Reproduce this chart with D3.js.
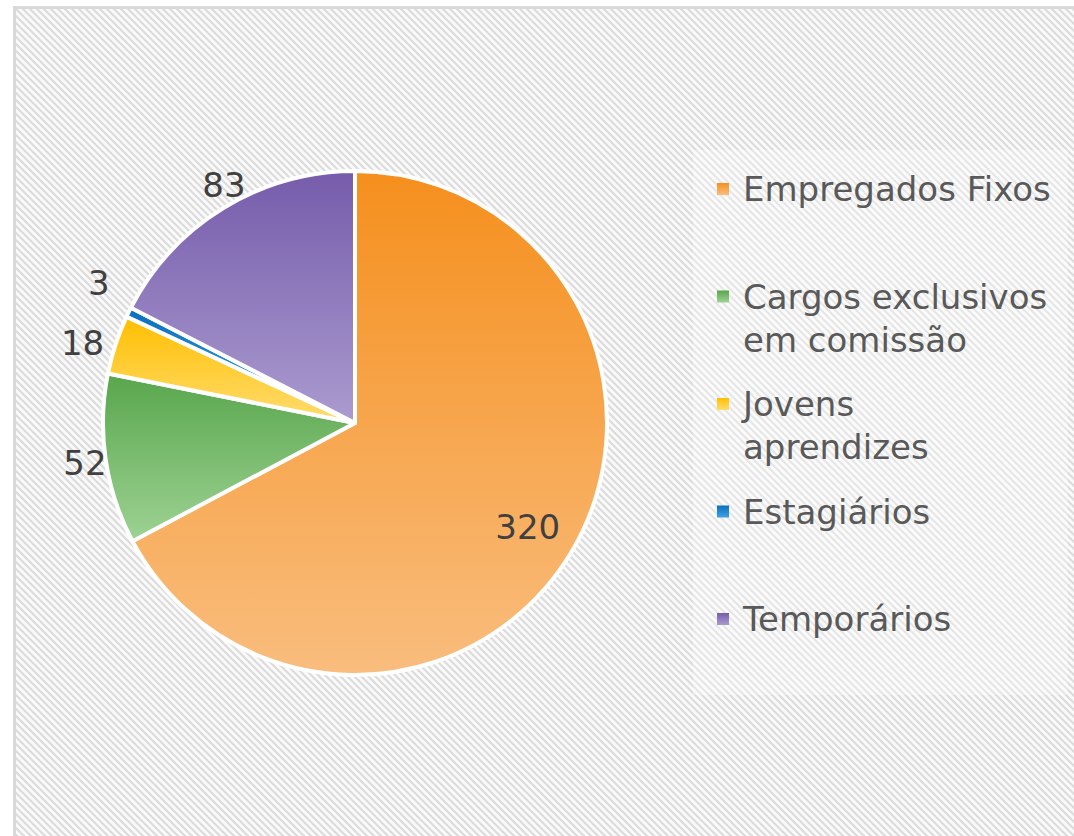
<!DOCTYPE html>
<html><head><meta charset="utf-8">
<script src="https://cdn.jsdelivr.net/npm/d3@7"></script>
<style>html,body{margin:0;padding:0;background:#fff;}svg{display:block;}</style>
</head><body>
<div id="chart"></div>
<script>
const categories = ["Empregados Fixos", "Cargos exclusivos em comissão", "Jovens aprendizes", "Estagiários", "Temporários"];
const legendLines = [["Empregados Fixos"], ["Cargos exclusivos", "em comissão"], ["Jovens", "aprendizes"], ["Estagiários"], ["Temporários"]];
const values = [320, 52, 18, 3, 83];
const colorTop = ["#f58f1d", "#58a64c", "#ffbf00", "#0a6fbd", "#765cab"];
const colorBottom = ["#f9bd7e", "#9ed294", "#ffdc70", "#3fa2e4", "#aa9bcf"];

const W = 1074, H = 836;
const svg = d3.select("#chart").append("svg").attr("width", W).attr("height", H);
const defs = svg.append("defs");

// background hatch pattern
const pat = defs.append("pattern").attr("id", "hatch").attr("patternUnits", "userSpaceOnUse")
  .attr("width", 7).attr("height", 7);
pat.append("rect").attr("width", 7).attr("height", 7).attr("fill", "#fafafa");
pat.append("path").attr("d", "M-1,-1 L8,8 M-8,-1 L1,8 M6,-1 L15,8").attr("stroke", "#dcdcdc").attr("stroke-width", 2.2);

svg.append("rect").attr("x", 0).attr("y", 0).attr("width", W).attr("height", H).attr("fill", "#fff");
svg.append("rect").attr("x", 14.5).attr("y", 7.5).attr("width", W + 20).attr("height", H + 20)
  .attr("fill", "url(#hatch)").attr("stroke", "#d9d9d9").attr("stroke-width", 3);

// gradients
categories.forEach((c, i) => {
  const g = defs.append("linearGradient").attr("id", "grad" + i)
    .attr("x1", 0).attr("y1", 0).attr("x2", 0).attr("y2", 1);
  g.append("stop").attr("offset", "0%").attr("stop-color", colorTop[i]);
  g.append("stop").attr("offset", "100%").attr("stop-color", colorBottom[i]);
});

const cx = 355, cy = 423, R = 252;
const pie = d3.pie().sort(null).value(d => d)(values);
const arc = d3.arc().innerRadius(0).outerRadius(R);
const gPie = svg.append("g").attr("transform", `translate(${cx},${cy})`);
gPie.selectAll("path").data(pie).join("path")
  .attr("d", arc)
  .attr("fill", (d, i) => `url(#grad${i})`)
  .attr("stroke", "#fff").attr("stroke-width", 4).attr("stroke-linejoin", "round");

// data labels
const labelFont = "'DejaVu Sans', sans-serif";
const outsideExtra = [null, 21, 32, 40, 20];
const angleShift = [0, 0, -0.03, 0.045, 0.045];
pie.forEach((d, i) => {
  const a = (d.startAngle + d.endAngle) / 2 + angleShift[i];
  let r = outsideExtra[i] === null ? R * 0.8 : R + outsideExtra[i];
  const x = Math.sin(a) * r, y = -Math.cos(a) * r;
  gPie.append("text").attr("x", x).attr("y", y)
    .attr("text-anchor", "middle").attr("dominant-baseline", "central")
    .attr("font-family", labelFont).attr("font-size", 34).attr("fill", "#404040")
    .text(values[i]);
});

// legend
svg.append("rect").attr("x", 693).attr("y", 150).attr("width", 375).attr("height", 545)
  .attr("fill", "#ffffff").attr("opacity", 0.3);
const legY = d3.scalePoint().domain(categories).range([189, 619]);
categories.forEach((c, i) => {
  const y = legY(c);
  svg.append("rect").attr("x", 717).attr("y", y - 6).attr("width", 12).attr("height", 12)
    .attr("fill", `url(#grad${i})`);
  const t = svg.append("text").attr("x", 743).attr("y", y)
    .attr("font-family", labelFont).attr("font-size", 34).attr("fill", "#595959")
    .attr("dominant-baseline", "central");
  legendLines[i].forEach((ln, k) => {
    t.append("tspan").attr("x", 743).attr("dy", k === 0 ? 0 : 43).text(ln);
  });
});
</script>
</body></html>
